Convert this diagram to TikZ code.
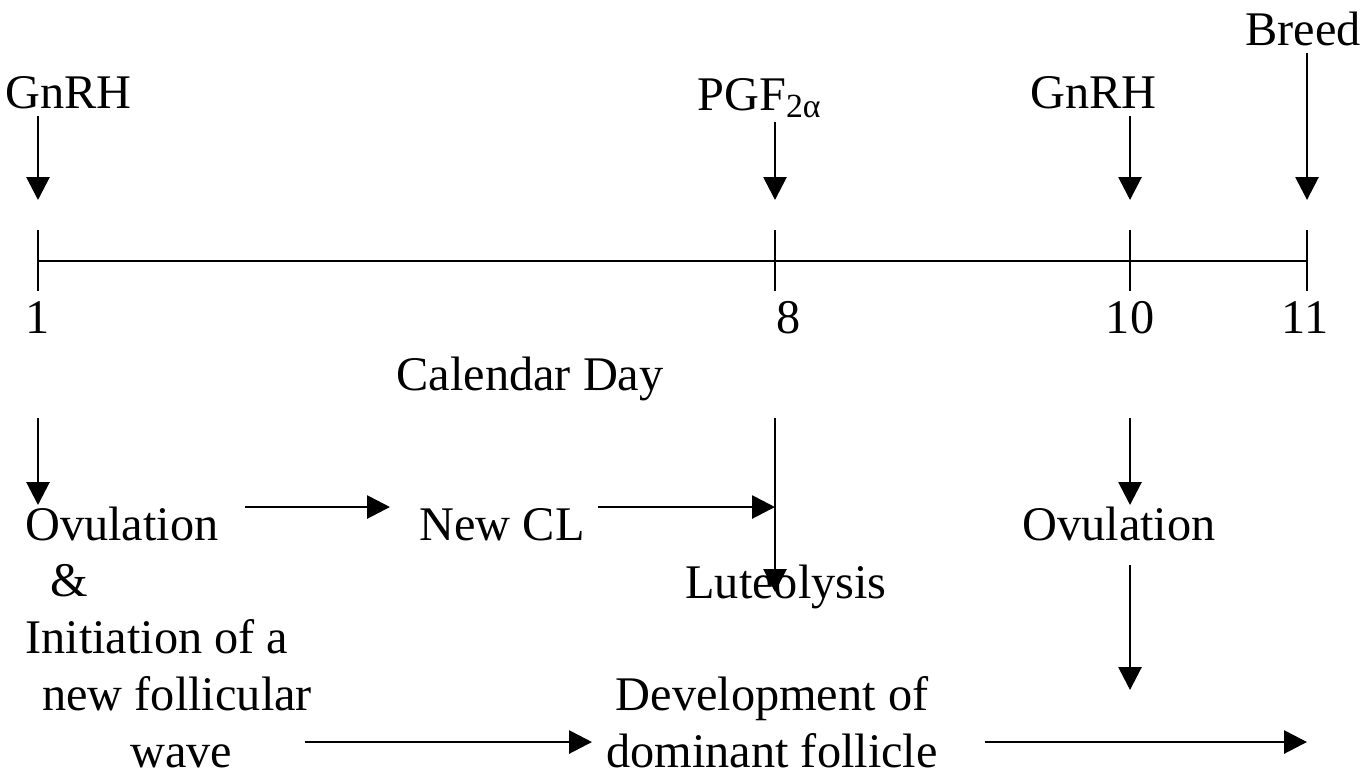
\documentclass[tikz,border=0pt]{standalone}
\usepackage{fontspec}
\setmainfont{Liberation Serif}
\usetikzlibrary{arrows.meta, calc}

\begin{document}
\begin{tikzpicture}[
        x=0.02cm, y=-0.02cm,
        font=\fontsize{27.5}{32.3}\selectfont,
        lbl/.style={inner sep=0pt, anchor=base},
        arrow/.style={-{Triangle[width=13pt,length=13pt]}, line width=1.6pt},
        axis/.style={line width=1.6pt}
    ]
        \useasboundingbox (0,0) rectangle (1364,779);

        % Timeline
        \coordinate (d1) at (38,261);
        \coordinate (d8) at (775,261);
        \coordinate (d10) at (1130,261);
        \coordinate (d11) at (1307,261);
        \draw[axis] (d1) -- (d11);
        \foreach \d in {d1,d8,d10,d11}
            \draw[axis] ($(\d)+(0,-31)$) -- ($(\d)+(0,30)$);

        % Nodes
        \node[lbl, anchor=base west] (gnrh1) at (5,108) {GnRH};
        \node[lbl, anchor=base west] (pgf) at (697,110) {PGF\textsubscript{2α}};
        \node[lbl, anchor=base west] (gnrh2) at (1030,108) {GnRH};
        \node[lbl, anchor=base west] (breed) at (1245,45) {Breed};
        \node[lbl] (n1) at (38,333) {1};
        \node[lbl] (n8) at (789,333) {8};
        \node[lbl] (n10) at (1130,333) {10};
        \node[lbl] (n11) at (1305,333) {11};
        \node[lbl] (calday) at (530,390) {Calendar Day};
        \node[lbl, anchor=base west, align=left] (ovul1) at (25,767)
            {Ovulation\\\hspace{0.5cm}\&\\Initiation of a\\\hspace{0.34cm}new follicular\\\hspace{2.1cm}wave};
        \node[lbl] (newcl) at (502,540) {New CL};
        \node[lbl] (luteo) at (786,598) {Luteolysis};
        \node[lbl] (ovul2) at (1119,540) {Ovulation};
        \node[lbl, align=center] (devel) at (772,767) {Development of\\dominant follicle};

        \coordinate (top1) at (38,200);
        \coordinate (top8) at (775,200);
        \coordinate (top10) at (1130,200);
        \coordinate (top11) at (1307,200);
        \coordinate (low1) at (38,418);
        \coordinate (low8) at (775,418);
        \coordinate (low10) at (1130,418);
        \coordinate (dom10) at (1130,690);
        \coordinate (end) at (1307,742);

        % Arrows
        \draw[arrow] ([yshift=-4pt]gnrh1.south -| top1) -- (top1);
        \draw[arrow] ([yshift=-2pt]pgf.south -| top8) -- (top8);
        \draw[arrow] ([yshift=-4pt]gnrh2.south -| top10) -- (top10);
        \draw[arrow] ([yshift=-4pt]breed.south -| top11) -- (top11);
        \draw[arrow] (low1) -- (38,505);
        \draw[arrow] (low8) -- (775,592);
        \draw[arrow] (low10) -- (1130,505);
        \draw[arrow] (245,507) -- (390,507);
        \draw[arrow] (598,507) -- (775,507);
        \draw[arrow] (1130,565) -- (dom10);
        \draw[arrow] (305,742) -- (592,742);
        \draw[arrow] (985,742) -- (end);
    \end{tikzpicture}
\end{document}
